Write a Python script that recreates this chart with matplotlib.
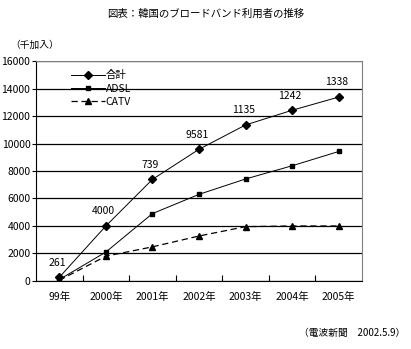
import numpy as np
import matplotlib.pyplot as plt

plt.rcParams['font.family'] = ['Noto Sans CJK JP', 'DejaVu Sans']

# データ
years = ["99年", "2000年", "2001年", "2002年", "2003年", "2004年", "2005年"]
total = [261, 4000, 7390, 9581, 11350, 12420, 13380]
total_labels = ["261", "4000", "739", "9581", "1135", "1242", "1338"]
adsl = [100, 2100, 4900, 6300, 7420, 8380, 9420]
catv = [50, 1800, 2480, 3270, 3950, 4000, 4000]

fig = plt.figure(figsize=(4.11, 3.49), dpi=100)
ax = fig.add_axes([0.0876, 0.195, 0.793, 0.63])

x = np.arange(len(years))
ax.plot(x, total, color="black", lw=0.7, marker="D", ms=4.5, label="合計")
ax.plot(x, adsl, color="black", lw=0.7, marker="s", ms=3.5, label="ADSL")
ax.plot(x, catv, color="black", lw=0.9, ls=(0, (5, 3)), marker="^", ms=4.5, label="CATV")

# データラベル
for xi, yi, s in zip(x, total, total_labels):
    ax.text(xi - 0.05, yi + 700, s, ha="center", va="bottom", fontsize=7.5)

ax.set_xlim(-0.5, 6.5)
ax.set_ylim(0, 16000)
ax.set_yticks(np.arange(0, 16001, 2000))
ax.yaxis.grid(True, color="black", lw=0.9)
ax.set_axisbelow(True)
ax.set_xticks(x)
ax.set_xticklabels(years, fontsize=7.5)
ax.set_xticks(np.arange(0.5, 6, 1), minor=True)
ax.tick_params(axis="x", which="major", length=0, pad=8)
ax.tick_params(axis="x", which="minor", direction="in", length=4, width=0.8)
ax.tick_params(axis="y", labelsize=7.5, length=3, width=0.8, pad=1)

for side in ["top", "right"]:
    ax.spines[side].set_color("#808080")
for side in ["left", "bottom"]:
    ax.spines[side].set_color("black")

ax.legend(loc="upper left", bbox_to_anchor=(0.08, 1.0), frameon=False,
          fontsize=7.5, handlelength=3.2, handletextpad=0.1, labelspacing=0.3)

fig.text(0.5, 0.962, "図表：韓国のブロードバンド利用者の推移", ha="center", va="center", fontsize=7.5)
fig.text(0.025, 0.872, "（千加入）", ha="left", va="center", fontsize=7)
fig.text(0.985, 0.045, "（電波新聞　2002.5.9）", ha="right", va="center", fontsize=7)

fig.savefig("out.png", dpi=100)
